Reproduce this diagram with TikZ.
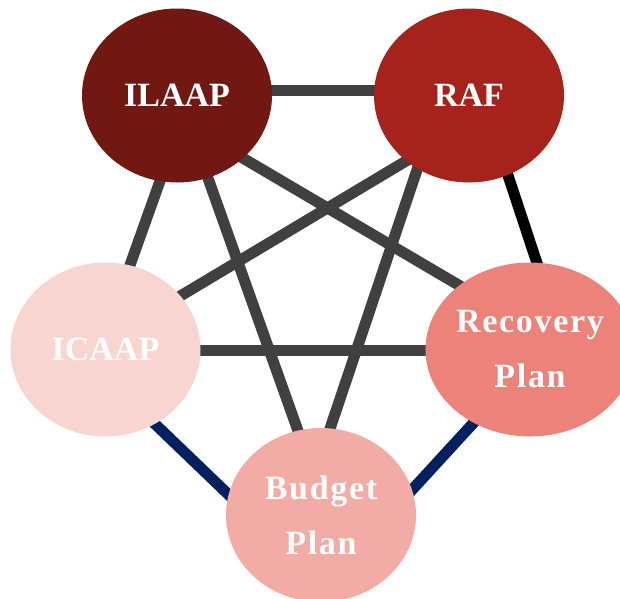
\documentclass[tikz,border=0pt]{standalone}
\usepackage{fontspec}
\setmainfont{Liberation Serif}
\newfontfamily\spacedserif[LetterSpace=5]{Liberation Serif}
\usetikzlibrary{shapes.geometric,backgrounds}
\definecolor{cIlaap}{HTML}{701811}
\definecolor{cRaf}{HTML}{A5231A}
\definecolor{cIcaap}{HTML}{F8D5D1}
\definecolor{cRecov}{HTML}{EC8279}
\definecolor{cBudget}{HTML}{F2ABA5}
\definecolor{cGrayEdge}{HTML}{404040}
\definecolor{cNavy}{HTML}{002060}
\tikzset{
  blob/.style={ellipse, draw=none, inner sep=0pt, minimum width=190pt, minimum height=174pt,
    text=white, align=center, font=\fontsize{34}{55}\selectfont\bfseries},
  wordy/.style={font=\fontsize{34}{55}\selectfont\spacedserif\bfseries},
  link/.style={line width=11pt, draw=cGrayEdge},
  keylink/.style={line width=11pt, draw=black},
  navylink/.style={line width=11pt, draw=cNavy}
}
\begin{document}
\begin{tikzpicture}[x=1pt,y=-1pt]
\useasboundingbox (0,0) rectangle (620,598);
\node[blob, fill=cIlaap]  (ilaap)  at (177,95.5)  {ILAAP};
\node[blob, fill=cRaf]    (raf)    at (469,95.5)  {RAF};
\node[blob, fill=cIcaap]  (icaap)  at (105.5,349.5) {ICAAP};
\node[blob, wordy, fill=cRecov]  (recov)  at (530,349.5) {Recovery\\Plan};
\node[blob, wordy, fill=cBudget] (budget) at (321,515)   {Budget\\Plan};
\begin{pgfonlayer}{background}
\draw[link] ([shift={(0,-4.8)}]ilaap.center) -- ([shift={(0,-4.8)}]raf.center);
\draw[link] ([shift={(0,1.2)}]icaap.center) -- ([shift={(0,1.2)}]recov.center);
\draw[link] ([shift={(13.5,0)}]ilaap.center) -- ([shift={(-5.8,0.5)}]icaap.center);
\draw[link] ([shift={(1.5,0)}]ilaap.center) -- ([shift={(7,0)}]budget.center);
\draw[link] ([shift={(-27,0)}]raf.center) -- ([shift={(-20,0)}]budget.center);
\draw[link] ([shift={(46.6,0)}]raf.center) -- ([shift={(-15.5,0.5)}]icaap.center);
\draw[link] ([shift={(-40.6,0)}]ilaap.center) -- ([shift={(39,0.5)}]recov.center);
\draw[keylink] ([shift={(12.6,0)}]raf.center) -- ([shift={(35.7,0.5)}]recov.center);
\draw[navylink] ([shift={(34.5,60.1)}]icaap.center) -- ([shift={(-61,9.8)}]budget.center);
\draw[navylink] ([shift={(59,9.8)}]budget.center) -- ([shift={(-30,44.5)}]recov.center);
\end{pgfonlayer}
\end{tikzpicture}
\end{document}
